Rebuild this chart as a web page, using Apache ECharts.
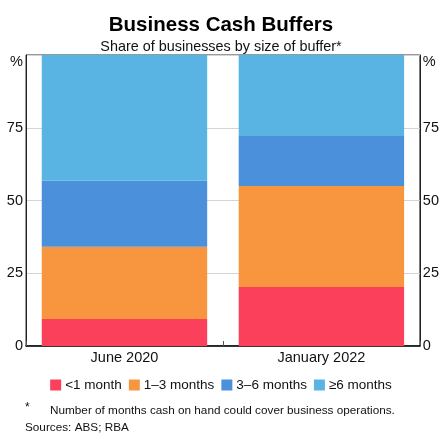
<!DOCTYPE html>
<html>
<head>
<meta charset="utf-8">
<script src="https://cdn.jsdelivr.net/npm/echarts@6/dist/echarts.min.js"></script>
<style>
  html, body { margin: 0; padding: 0; background: #fff; }
  #chart { width: 442px; height: 434px; }
</style>
</head>
<body>
<div id="chart"></div>
<script>
// data
var categories = ['June 2020', 'January 2022']
var lessThan1 = [9.3, 20.3]
var oneToThree = [24.8, 34.7]
var threeToSix = [22.7, 17.2]
var sixPlus = [43.2, 27.8]
var yTicks = [0, 25, 50, 75, 100]

var font = 'Liberation Sans, Arial, sans-serif'
var chart = echarts.init(document.getElementById('chart'))

function yLabel (v) {
  return v === 100 ? '{p|%}' : String(v)
}

var yAxisBase = {
  type: 'value',
  min: yTicks[0],
  max: yTicks[yTicks.length - 1],
  interval: 25,
  axisLine: { show: true, lineStyle: { color: '#222', width: 1 } },
  axisTick: { show: false },
  splitLine: { show: true, lineStyle: { color: '#d4d4d4', width: 1 } },
  axisLabel: {
    formatter: yLabel,
    color: '#111',
    fontFamily: font,
    fontSize: 14.5,
    margin: 3,
    rich: { p: { fontFamily: font, fontSize: 14.5, color: '#111', padding: [14, 0, 0, 0] } }
  }
}

function bar (name, data, color) {
  return {
    name: name,
    type: 'bar',
    stack: 'total',
    barCategoryGap: '16%',
    data: data,
    itemStyle: { color: color },
    emphasis: { disabled: true }
  }
}

chart.setOption({
  animation: false,
  title: [
    {
      text: 'Business Cash Buffers',
      left: 'center',
      top: 10,
      textStyle: { fontFamily: font, fontSize: 20.5, fontWeight: 'bold', color: '#000' }
    },
    {
      text: 'Share of businesses by size of buffer*',
      left: 'center',
      top: 35,
      textStyle: { fontFamily: font, fontSize: 14.4, fontWeight: 'normal', color: '#111' }
    }
  ],
  legend: {
    bottom: 37,
    left: 'center',
    itemWidth: 11,
    itemHeight: 11,
    itemGap: 7,
    icon: 'rect',
    textStyle: { fontFamily: font, fontSize: 13.5, color: '#111', padding: [0, 0, 0, -1] },
    data: ['<1 month', '1–3 months', '3–6 months', '≥6 months']
  },
  grid: {
    left: 26,
    right: 21,
    top: 55,
    bottom: 88,
    show: true,
    borderColor: '#333',
    borderWidth: 1
  },
  xAxis: {
    type: 'category',
    data: categories,
    axisLine: { lineStyle: { color: '#000', width: 1.5 } },
    axisTick: { show: true, inside: true, length: 5, lineStyle: { color: '#555' } },
    axisLabel: { color: '#111', fontFamily: font, fontSize: 14.5, margin: 4 }
  },
  yAxis: [
    Object.assign({}, yAxisBase, { position: 'left' }),
    Object.assign({}, yAxisBase, { position: 'right', splitLine: { show: false } })
  ],
  series: [
    bar('<1 month', lessThan1, '#fa405b'),
    bar('1–3 months', oneToThree, '#f89640'),
    bar('3–6 months', threeToSix, '#4a90da'),
    bar('≥6 months', sixPlus, '#5ab4e3')
  ],
  graphic: [
    { type: 'text', left: 25, top: 402, style: { text: '*', font: '12px ' + font, fill: '#111' } },
    { type: 'text', left: 50, top: 405, style: { text: 'Number of months cash on hand could cover business operations.', font: '11.75px ' + font, fill: '#111' } },
    { type: 'text', left: 25, top: 422, style: { text: 'Sources: ABS; RBA', font: '11.75px ' + font, fill: '#111' } }
  ]
})
</script>
</body>
</html>
